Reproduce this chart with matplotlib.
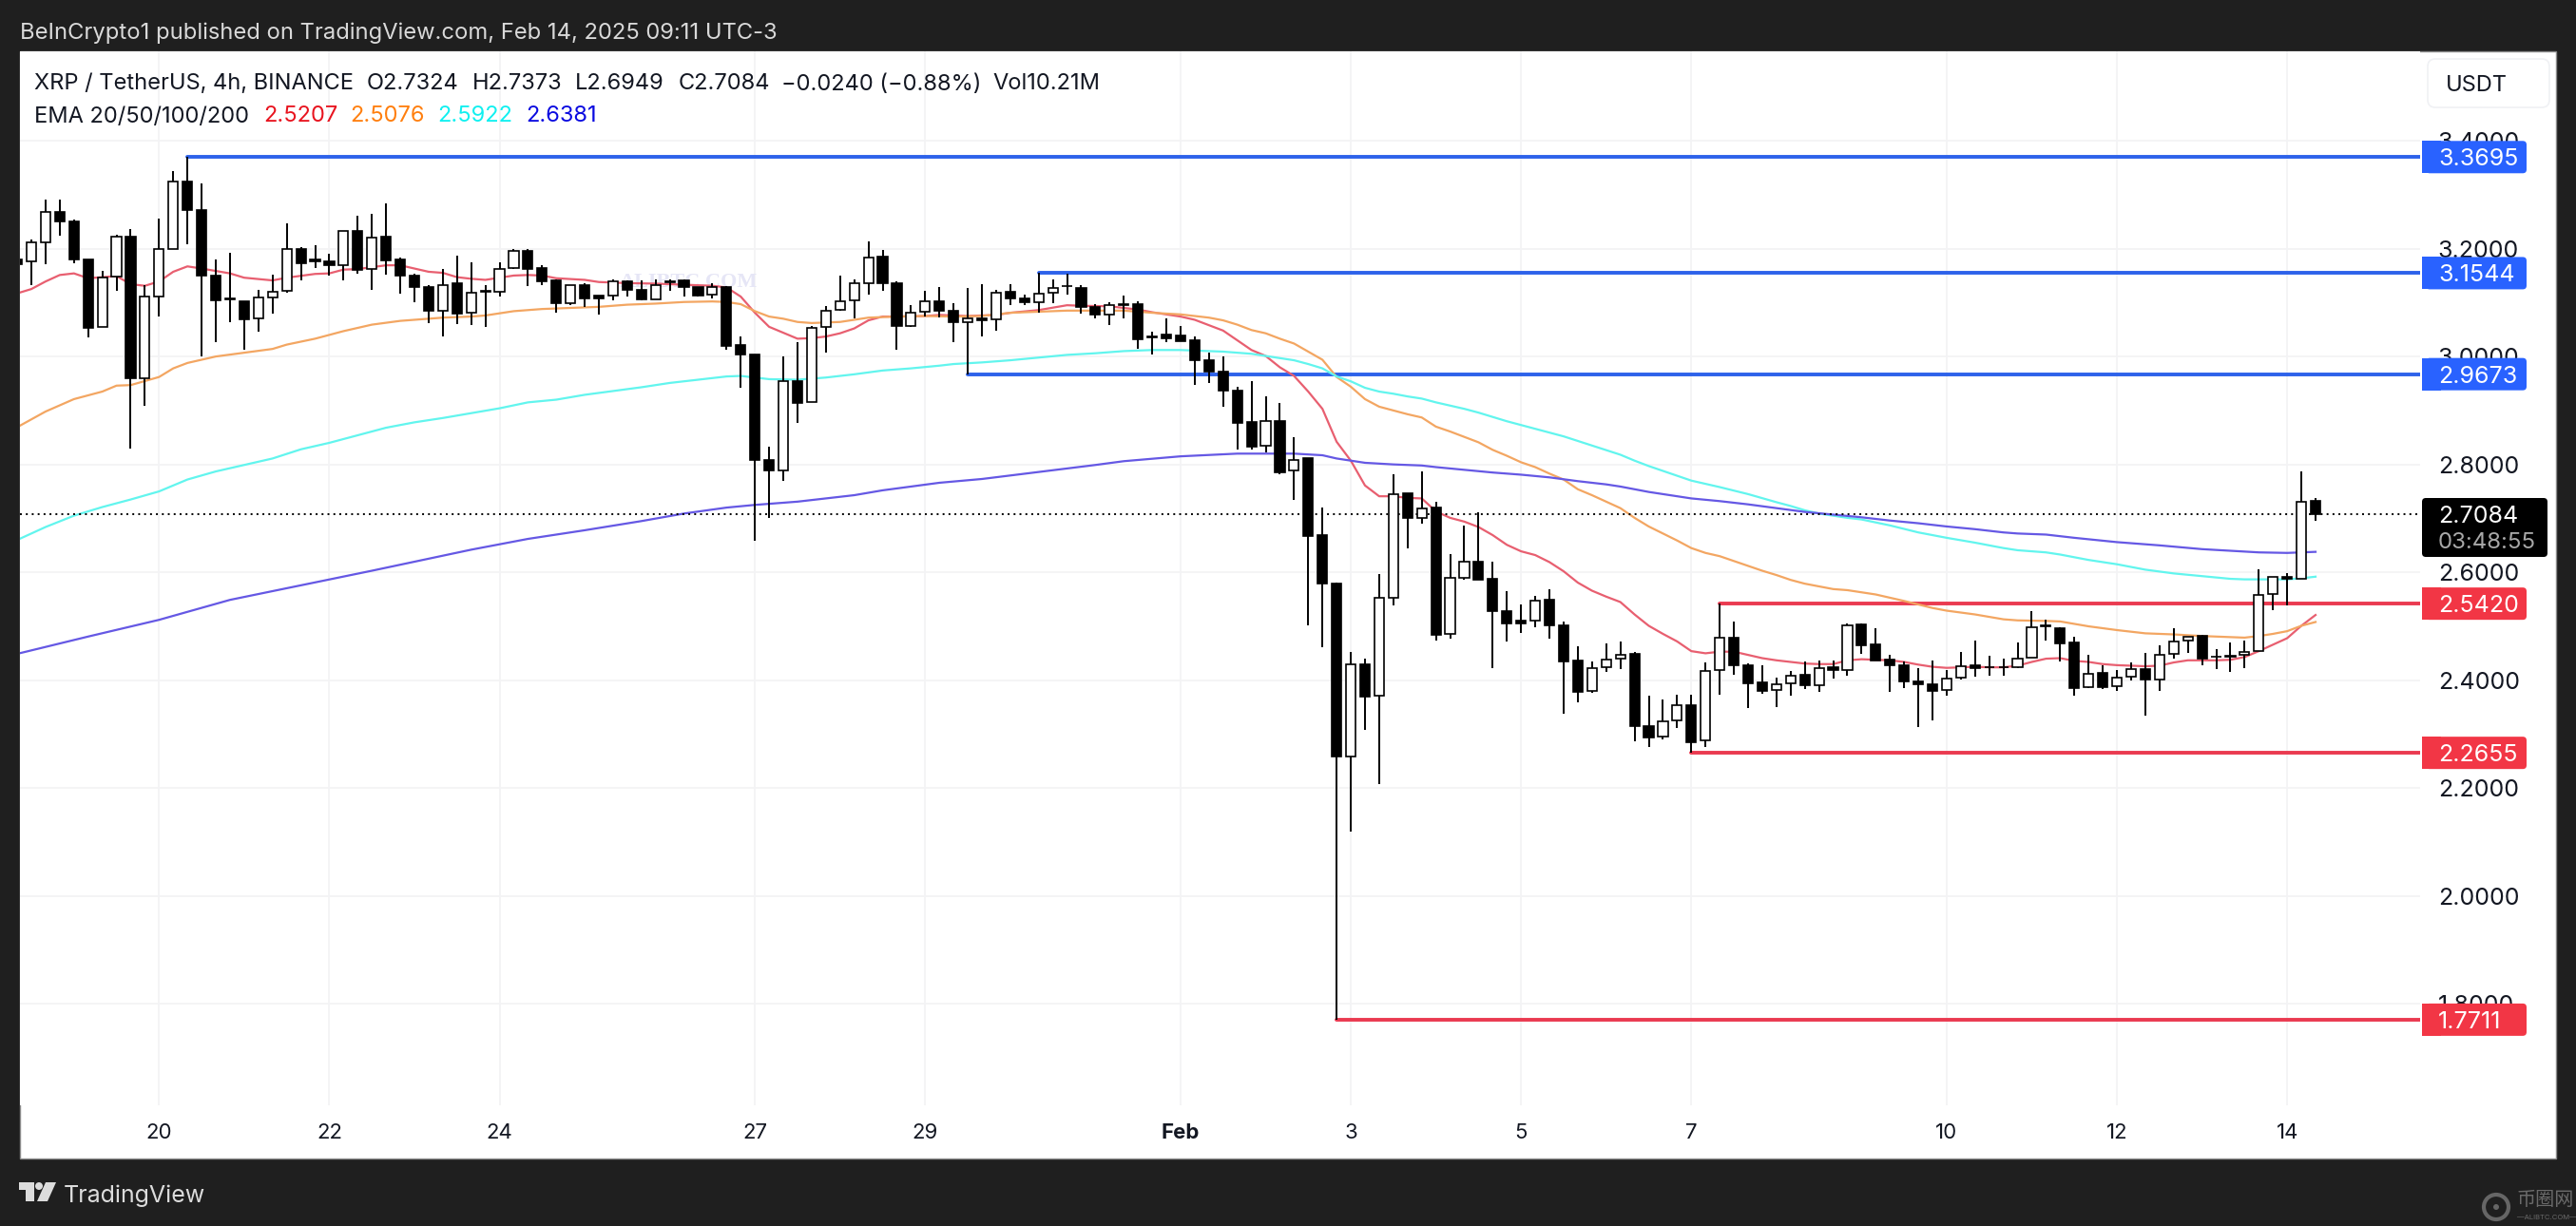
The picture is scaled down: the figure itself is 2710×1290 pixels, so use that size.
import numpy as np
import matplotlib
matplotlib.use('Agg')
import matplotlib.pyplot as plt
from matplotlib.patches import Rectangle, FancyBboxPatch, Polygon, Circle
from matplotlib.transforms import IdentityTransform

W, H = 2710, 1290
plt.rcParams['font.family'] = ['Inter', 'DejaVu Sans']

# 4h candles, one per index
opens = [3.179,3.177,3.212,3.268,3.250,3.180,3.055,3.148,3.222,2.959,
         3.112,3.200,3.324,3.272,3.150,3.107,3.103,3.070,3.110,3.121,
         3.200,3.179,3.177,3.170,3.233,3.163,3.222,3.179,3.150,3.129,
         3.084,3.135,3.081,3.121,3.120,3.164,3.195,3.164,3.141,3.099,
         3.132,3.113,3.113,3.139,3.123,3.106,3.137,3.141,3.128,3.115,
         3.129,3.021,3.004,2.809,2.788,2.955,2.915,3.054,3.087,3.104,
         3.136,3.185,3.136,3.056,3.083,3.103,3.084,3.064,3.070,3.068,
         3.120,3.108,3.100,3.118,3.130,3.127,3.092,3.078,3.097,3.097,
         3.037,3.040,3.039,3.030,2.993,2.972,2.937,2.878,2.834,2.881,
         2.788,2.811,2.669,2.580,2.258,2.430,2.372,2.553,2.746,2.701,
         2.720,2.486,2.590,2.620,2.588,2.528,2.511,2.511,2.549,2.502,
         2.437,2.380,2.424,2.440,2.449,2.315,2.295,2.325,2.353,2.288,
         2.419,2.478,2.427,2.396,2.382,2.395,2.410,2.391,2.424,2.419,
         2.503,2.466,2.438,2.427,2.398,2.392,2.382,2.405,2.427,2.425,
         2.424,2.424,2.442,2.501,2.496,2.470,2.387,2.413,2.389,2.406,
         2.420,2.402,2.449,2.474,2.482,2.444,2.446,2.447,2.454,2.560,
         2.592,2.588,2.7324]
closes = [3.171,3.211,3.267,3.250,3.180,3.053,3.146,3.222,2.959,3.111,
          3.199,3.324,3.271,3.150,3.104,3.105,3.069,3.110,3.120,3.199,
          3.173,3.177,3.169,3.232,3.160,3.221,3.178,3.150,3.129,3.084,
          3.133,3.080,3.118,3.120,3.163,3.195,3.163,3.140,3.098,3.132,
          3.107,3.107,3.139,3.123,3.105,3.132,3.140,3.128,3.113,3.128,
          3.020,3.003,2.808,2.788,2.954,2.914,3.053,3.085,3.103,3.135,
          3.184,3.135,3.056,3.082,3.103,3.085,3.064,3.070,3.067,3.119,
          3.107,3.100,3.117,3.127,3.131,3.091,3.077,3.096,3.096,3.031,
          3.036,3.034,3.029,2.993,2.972,2.937,2.877,2.833,2.880,2.785,
          2.809,2.668,2.579,2.258,2.429,2.370,2.552,2.745,2.700,2.718,
          2.485,2.589,2.619,2.587,2.528,2.505,2.505,2.548,2.501,2.435,
          2.379,2.423,2.439,2.448,2.315,2.294,2.324,2.353,2.286,2.418,
          2.478,2.427,2.395,2.381,2.393,2.409,2.390,2.423,2.419,2.502,
          2.465,2.437,2.427,2.397,2.392,2.381,2.404,2.426,2.422,2.424,
          2.425,2.440,2.499,2.500,2.468,2.386,2.412,2.387,2.405,2.420,
          2.401,2.447,2.471,2.481,2.440,2.443,2.444,2.453,2.558,2.591,
          2.588,2.730,2.7084]
highs = [3.179,3.217,3.290,3.291,3.253,3.180,3.159,3.225,3.237,3.133,
         3.256,3.344,3.3695,3.321,3.179,3.193,3.103,3.123,3.152,3.246,
         3.202,3.207,3.190,3.232,3.260,3.265,3.284,3.183,3.154,3.132,
         3.163,3.186,3.174,3.132,3.174,3.199,3.200,3.169,3.143,3.132,
         3.135,3.113,3.142,3.141,3.141,3.143,3.142,3.143,3.129,3.135,
         3.131,3.037,3.004,2.832,3.000,3.026,3.057,3.094,3.150,3.142,
         3.213,3.197,3.139,3.095,3.122,3.129,3.099,3.127,3.134,3.123,
         3.134,3.115,3.1544,3.143,3.153,3.132,3.097,3.100,3.113,3.102,
         3.046,3.071,3.057,3.037,3.008,3.001,2.944,2.955,2.927,2.914,
         2.850,2.812,2.720,2.581,2.453,2.440,2.596,2.782,2.746,2.787,
         2.731,2.634,2.687,2.711,2.620,2.565,2.541,2.556,2.569,2.509,
         2.463,2.434,2.468,2.471,2.452,2.371,2.364,2.373,2.373,2.433,
         2.542,2.509,2.431,2.427,2.405,2.417,2.434,2.436,2.437,2.505,
         2.506,2.496,2.448,2.434,2.423,2.436,2.419,2.452,2.473,2.445,
         2.441,2.470,2.528,2.512,2.498,2.480,2.447,2.427,2.419,2.433,
         2.451,2.465,2.496,2.481,2.485,2.457,2.470,2.473,2.605,2.591,
         2.598,2.787,2.7373]
lows = [3.171,3.132,3.171,3.224,3.173,3.036,3.055,3.122,2.829,2.909,
        3.074,3.200,3.208,3.001,3.026,3.064,3.013,3.046,3.079,3.119,
        3.141,3.164,3.150,3.141,3.153,3.123,3.152,3.117,3.101,3.062,
        3.038,3.060,3.059,3.054,3.112,3.162,3.130,3.133,3.082,3.096,
        3.092,3.078,3.104,3.111,3.104,3.106,3.121,3.111,3.112,3.107,
        3.012,2.942,2.658,2.700,2.770,2.877,2.915,3.007,3.084,3.071,
        3.114,3.121,3.012,3.054,3.074,3.072,3.026,2.9673,3.037,3.047,
        3.096,3.096,3.082,3.098,3.114,3.079,3.070,3.058,3.070,3.014,
        3.003,3.026,3.028,2.947,2.951,2.907,2.828,2.828,2.822,2.782,
        2.734,2.501,2.461,1.7711,2.120,2.308,2.208,2.538,2.645,2.690,
        2.473,2.477,2.586,2.587,2.422,2.471,2.487,2.498,2.477,2.338,
        2.360,2.376,2.415,2.420,2.287,2.277,2.291,2.312,2.2655,2.277,
        2.374,2.411,2.348,2.375,2.351,2.372,2.383,2.379,2.403,2.408,
        2.449,2.437,2.379,2.386,2.313,2.325,2.372,2.402,2.406,2.409,
        2.409,2.422,2.442,2.474,2.434,2.372,2.385,2.383,2.381,2.400,
        2.334,2.380,2.441,2.451,2.428,2.420,2.416,2.422,2.454,2.530,
        2.539,2.588,2.6949]

ema20_idx = [0,1,2,3,4,5,7,8,9,10,11,12,13,15,16,18,19,21,22,23,24,26,27,28,29,30,31,32,33,35,36,37,38,40,41,43,45,47,49,50,
             51,52,53,54,55,56,57,58,59,60,61,62,64,65,67,69,70,72,74,75,77,79,80,82,83,85,86,87,88,89,90,91,92,93,94,95,96,97,98,99,
             100,101,102,103,104,105,106,107,108,109,110,111,112,113,114,115,116,117,118,119,120,121,122,123,124,125,126,127,128,129,
             130,131,132,133,134,135,136,137,138,139,140,141,142,143,144,145,146,147,148,149,150,151,152,153,154,155,156,157,158,159,160,161,162]
ema20 = [3.117,3.125,3.139,3.151,3.154,3.145,3.149,3.134,3.131,3.139,3.157,3.167,3.163,3.154,3.146,3.141,3.146,3.153,3.154,3.161,
         3.162,3.169,3.169,3.163,3.157,3.155,3.147,3.144,3.142,3.150,3.151,3.150,3.145,3.142,3.138,3.136,3.135,3.133,3.131,3.128,
         3.111,3.081,3.055,3.044,3.033,3.034,3.037,3.043,3.052,3.067,3.074,3.074,3.075,3.077,3.075,3.077,3.081,3.086,3.095,3.094,
         3.093,3.087,3.082,3.074,3.068,3.048,3.030,3.012,3.001,2.980,2.964,2.935,2.903,2.842,2.807,2.761,2.741,2.741,2.738,2.737,
         2.713,2.701,2.694,2.684,2.669,2.651,2.639,2.632,2.619,2.602,2.581,2.566,2.555,2.545,2.522,2.501,2.486,2.472,2.454,2.450,
         2.453,2.453,2.447,2.441,2.437,2.434,2.431,2.430,2.430,2.437,2.439,2.438,2.437,2.434,2.429,2.425,2.423,2.424,2.425,2.424,
         2.424,2.427,2.434,2.440,2.441,2.436,2.434,2.430,2.428,2.427,2.426,2.427,2.433,2.437,2.437,2.437,2.438,2.443,2.454,2.466,
         2.478,2.501,2.521]

ema50_idx = [0,2,4,6,7,8,10,11,12,14,16,18,19,21,23,25,27,30,32,33,35,37,39,41,43,45,47,49,50,51,52,53,54,55,56,57,58,59,60,62,
             64,66,68,70,72,74,76,78,80,82,84,85,86,87,88,89,90,91,92,93,94,95,96,97,98,99,100,101,102,103,104,105,106,107,108,109,
             110,111,112,113,114,115,116,117,118,119,120,121,122,123,124,125,126,128,129,131,133,135,136,138,140,141,143,144,146,148,
             150,152,154,156,157,158,159,160,161,162]
ema50 = [2.869,2.898,2.921,2.935,2.946,2.947,2.962,2.978,2.988,3.000,3.007,3.014,3.022,3.033,3.047,3.059,3.066,3.072,3.074,3.076,
         3.084,3.088,3.090,3.092,3.096,3.098,3.101,3.102,3.101,3.097,3.084,3.074,3.070,3.064,3.062,3.063,3.064,3.068,3.072,3.074,
         3.075,3.074,3.075,3.081,3.083,3.085,3.085,3.085,3.081,3.078,3.072,3.067,3.059,3.049,3.043,3.033,3.024,3.009,2.994,2.962,
         2.944,2.921,2.907,2.900,2.893,2.887,2.870,2.861,2.851,2.841,2.827,2.816,2.804,2.795,2.783,2.772,2.754,2.743,2.731,2.719,
         2.701,2.685,2.672,2.659,2.645,2.636,2.630,2.621,2.612,2.603,2.595,2.586,2.579,2.569,2.567,2.559,2.547,2.534,2.529,2.522,
         2.513,2.511,2.510,2.509,2.500,2.493,2.487,2.485,2.482,2.480,2.479,2.482,2.486,2.491,2.501,2.508]

ema100_idx = [0,2,4,6,8,10,12,14,16,18,20,22,24,26,28,30,32,34,36,38,40,42,44,46,48,50,51,52,53,55,57,59,61,63,65,66,68,70,72,74,
              76,78,80,82,84,85,87,88,90,91,92,93,94,95,96,97,98,99,100,102,103,105,106,108,109,111,113,114,115,117,118,120,122,124,
              125,126,127,128,129,130,132,134,136,138,140,141,143,144,146,148,150,152,154,156,157,158,160,161,162]
ema100 = [2.660,2.684,2.705,2.721,2.735,2.750,2.772,2.787,2.799,2.811,2.828,2.840,2.854,2.868,2.878,2.886,2.895,2.904,2.915,2.920,
          2.929,2.936,2.943,2.951,2.957,2.963,2.964,2.961,2.958,2.957,2.961,2.967,2.974,2.978,2.983,2.986,2.989,2.993,2.998,3.003,
          3.006,3.010,3.012,3.012,3.010,3.009,3.005,3.001,2.993,2.986,2.978,2.963,2.954,2.942,2.935,2.931,2.926,2.922,2.915,2.903,
          2.896,2.880,2.873,2.859,2.852,2.835,2.818,2.807,2.797,2.779,2.770,2.758,2.745,2.730,2.723,2.715,2.709,2.705,2.701,2.698,
          2.687,2.674,2.664,2.655,2.645,2.641,2.637,2.633,2.623,2.615,2.605,2.598,2.593,2.588,2.587,2.587,2.587,2.589,2.592]

ema200_idx = [0,5,10,15,20,25,32,36,40,44,47,50,52,55,59,61,65,68,72,76,78,82,86,88,90,92,93,94,95,97,99,100,102,104,106,108,110,
              112,113,115,117,118,120,122,124,126,128,130,132,134,136,138,140,141,143,145,148,151,154,156,158,160,161,162]
ema200 = [2.449,2.481,2.512,2.549,2.576,2.603,2.642,2.662,2.678,2.695,2.709,2.720,2.725,2.731,2.743,2.752,2.766,2.773,2.786,2.799,
          2.806,2.815,2.820,2.820,2.820,2.817,2.811,2.807,2.803,2.800,2.798,2.795,2.790,2.785,2.781,2.776,2.769,2.763,2.759,2.749,
          2.741,2.737,2.732,2.726,2.719,2.712,2.707,2.702,2.696,2.691,2.685,2.680,2.674,2.672,2.670,2.664,2.656,2.650,2.643,2.640,
          2.637,2.636,2.637,2.638]

# horizontal levels: price, first candle
res_levels = [3.3695, 3.1544, 2.9673]
res_start = [12, 72, 67]
sup_levels = [2.5420, 2.2655, 1.7711]
sup_start = [120, 118, 93]
last_price = 2.7084

price_ticks = [1.8, 2.0, 2.2, 2.4, 2.6, 2.8, 3.0, 3.2, 3.4]
date_pos = [10, 22, 34, 52, 64, 82, 94, 106, 118, 136, 148, 160]
date_labels = ['20', '22', '24', '27', '29', 'Feb', '3', '5', '7', '10', '12', '14']

DARK = '#1f1f1f'
BLUE = '#2962ff'
RED = '#f23645'
LIGHT = '#f3f3f5'


def fx(px):
    return px / W


def fy(py):
    return 1 - py / H


fig = plt.figure(figsize=(W / 100, H / 100), dpi=100, facecolor=DARK)
fig.add_artist(Rectangle((21, H - 1219), 2668, 1165, transform=IdentityTransform(),
                         facecolor='white', edgecolor='#8c8c8c', lw=1, zorder=-1))

ax = fig.add_axes([fx(21), fy(1163), fx(2525), (1163 - 54) / H])
ax.set_facecolor('white')
for s in ax.spines.values():
    s.set_visible(False)
ax.set_xlim(0.196, 169.37)
ax.set_ylim(1.6124, 3.5655)
ax.set_axisbelow(True)
ax.grid(True, color=LIGHT, lw=1.3)

ax.set_xticks(date_pos)
ax.set_xticklabels(date_labels, fontsize=16, color='#131722')
ax.get_xticklabels()[5].set_fontweight('bold')
ax.tick_params(axis='x', length=0, pad=14)
ax.yaxis.tick_right()
ax.set_yticks(price_ticks)
ax.set_yticklabels(['%.4f' % p for p in price_ticks], fontsize=18, color='#131722')
ax.tick_params(axis='y', length=0, pad=13.5)

# watermark in the pane
ax.text(47.3, 3.138, 'ALIBTC.COM', family='Liberation Serif', fontweight='bold', fontsize=16,
        color='#e6e6f6', ha='center', va='center', zorder=1.5)

# levels
end = ax.get_xlim()[1]
for p, s in zip(res_levels, res_start):
    ax.plot([s, end], [p, p], color='#2d62ea', lw=2.8, solid_capstyle='round', zorder=2)
for p, s in zip(sup_levels, sup_start):
    ax.plot([s, end], [p, p], color='#ea3a50', lw=2.8, solid_capstyle='round', zorder=2)

# EMAs
ax.plot(ema20_idx, ema20, color='#e85f70', lw=1.6, zorder=3)
ax.plot(ema50_idx, ema50, color='#f3a662', lw=1.6, zorder=3)
ax.plot(ema100_idx, ema100, color='#62f5ee', lw=1.6, zorder=3)
ax.plot(ema200_idx, ema200, color='#6558e4', lw=1.6, zorder=3)

ax.axhline(last_price, color='black', lw=1.4, linestyle=(0, (1, 2.2)), zorder=3.5)

# candles
idx = np.arange(len(opens))
o = np.array(opens)
c = np.array(closes)
ax.vlines(idx, lows, highs, color='black', lw=1.4, zorder=4)
fill = ['white' if cc >= oo else 'black' for oo, cc in zip(o, c)]
ax.bar(idx, np.abs(c - o), bottom=np.minimum(o, c), width=0.68, color=fill,
       edgecolor='black', lw=1.2, zorder=5)


def label_box(price, text, color):
    y = ax.transData.transform((0, price))[1]
    fig.add_artist(Rectangle((2548, y - 17), 20, 34, transform=IdentityTransform(),
                             facecolor=color, edgecolor='none', zorder=6))
    fig.add_artist(FancyBboxPatch((2552, y - 17), 106, 34, boxstyle='round,pad=0,rounding_size=4',
                                  transform=IdentityTransform(), facecolor=color, edgecolor='none', zorder=6))
    fig.text(fx(2565), y / H, text, color='white', fontsize=18, va='center_baseline', ha='left', zorder=7)


for p in res_levels:
    label_box(p, '%.4f' % p, BLUE)
for p in sup_levels:
    label_box(p, '%.4f' % p, RED)

# last price tag
fig.add_artist(FancyBboxPatch((2548, H - 586), 132, 62, boxstyle='round,pad=0,rounding_size=4',
                              transform=IdentityTransform(), facecolor='black', edgecolor='none', zorder=6))
fig.text(fx(2565), fy(541), '2.7084', color='white', fontsize=18, va='center_baseline', zorder=7)
fig.text(fx(2565), fy(568.5), '03:48:55', color='#a8a8a8', fontsize=17.3, va='center_baseline', zorder=7)

# USDT button
fig.add_artist(FancyBboxPatch((2554, H - 113), 128, 51, boxstyle='round,pad=0,rounding_size=8',
                              transform=IdentityTransform(), facecolor='white', edgecolor='#f0f1f4', lw=1.2, zorder=6))
fig.text(fx(2573), fy(87), 'USDT', color='#131722', fontsize=17, va='center_baseline', zorder=7)

# header and legend text
fig.text(fx(21), fy(32), 'BeInCrypto1 published on TradingView.com, Feb 14, 2025 09:11 UTC-3',
         color='#d9d9d9', fontsize=17.1, va='center_baseline')

row1 = [(36, 'XRP / TetherUS, 4h, BINANCE'), (386, 'O2.7324'), (497, 'H2.7373'), (605, 'L2.6949'),
        (713.5, 'C2.7084'), (822, '\u22120.0240 (\u22120.88%)'), (1044, 'Vol10.21M')]
for x, t in row1:
    fig.text(fx(x), fy(86), t, color='#131722', fontsize=17, va='center_baseline')
row2 = [(36, 'EMA 20/50/100/200', '#131722'), (277, '2.5207', '#e8141f'), (368, '2.5076', '#ff7f0e'),
        (460, '2.5922', '#10f0f0'), (553, '2.6381', '#0a0ae0')]
for x, t, col in row2:
    fig.text(fx(x), fy(120), t, color=col, fontsize=17, va='center_baseline')

# TradingView logo
logo = '#dcdcdc'
fig.add_artist(Polygon([(20, H - 1244), (36, H - 1244), (36, H - 1264), (27, H - 1264), (27, H - 1252), (20, H - 1252)],
                       transform=IdentityTransform(), facecolor=logo, edgecolor='none'))
fig.add_artist(Circle((41, H - 1248), 4, transform=IdentityTransform(), facecolor=logo, edgecolor='none'))
fig.add_artist(Polygon([(48, H - 1244), (59, H - 1244), (50, H - 1264), (39, H - 1264)],
                       transform=IdentityTransform(), facecolor=logo, edgecolor='none'))
fig.text(fx(67), fy(1256), 'TradingView', color=logo, fontsize=18, va='center_baseline')

# site mark, bottom right
fig.add_artist(Circle((2626, H - 1270), 13, transform=IdentityTransform(), facecolor='none', edgecolor='#666666', lw=3))
fig.add_artist(Circle((2626, H - 1270), 3, transform=IdentityTransform(), facecolor='#666666', edgecolor='none'))
fig.text(fx(2648), fy(1263), '\u5e01\u5708\u7f51', color='#6a6a6a', fontsize=14.5, va='center',
         family=['Noto Sans CJK SC', 'DejaVu Sans'])
fig.text(fx(2648), fy(1281), '\u2014ALIBTC.COM\u2014', color='#6a6a6a', fontsize=5.5, va='center')

fig.savefig('out.png', dpi=100, facecolor=DARK)
